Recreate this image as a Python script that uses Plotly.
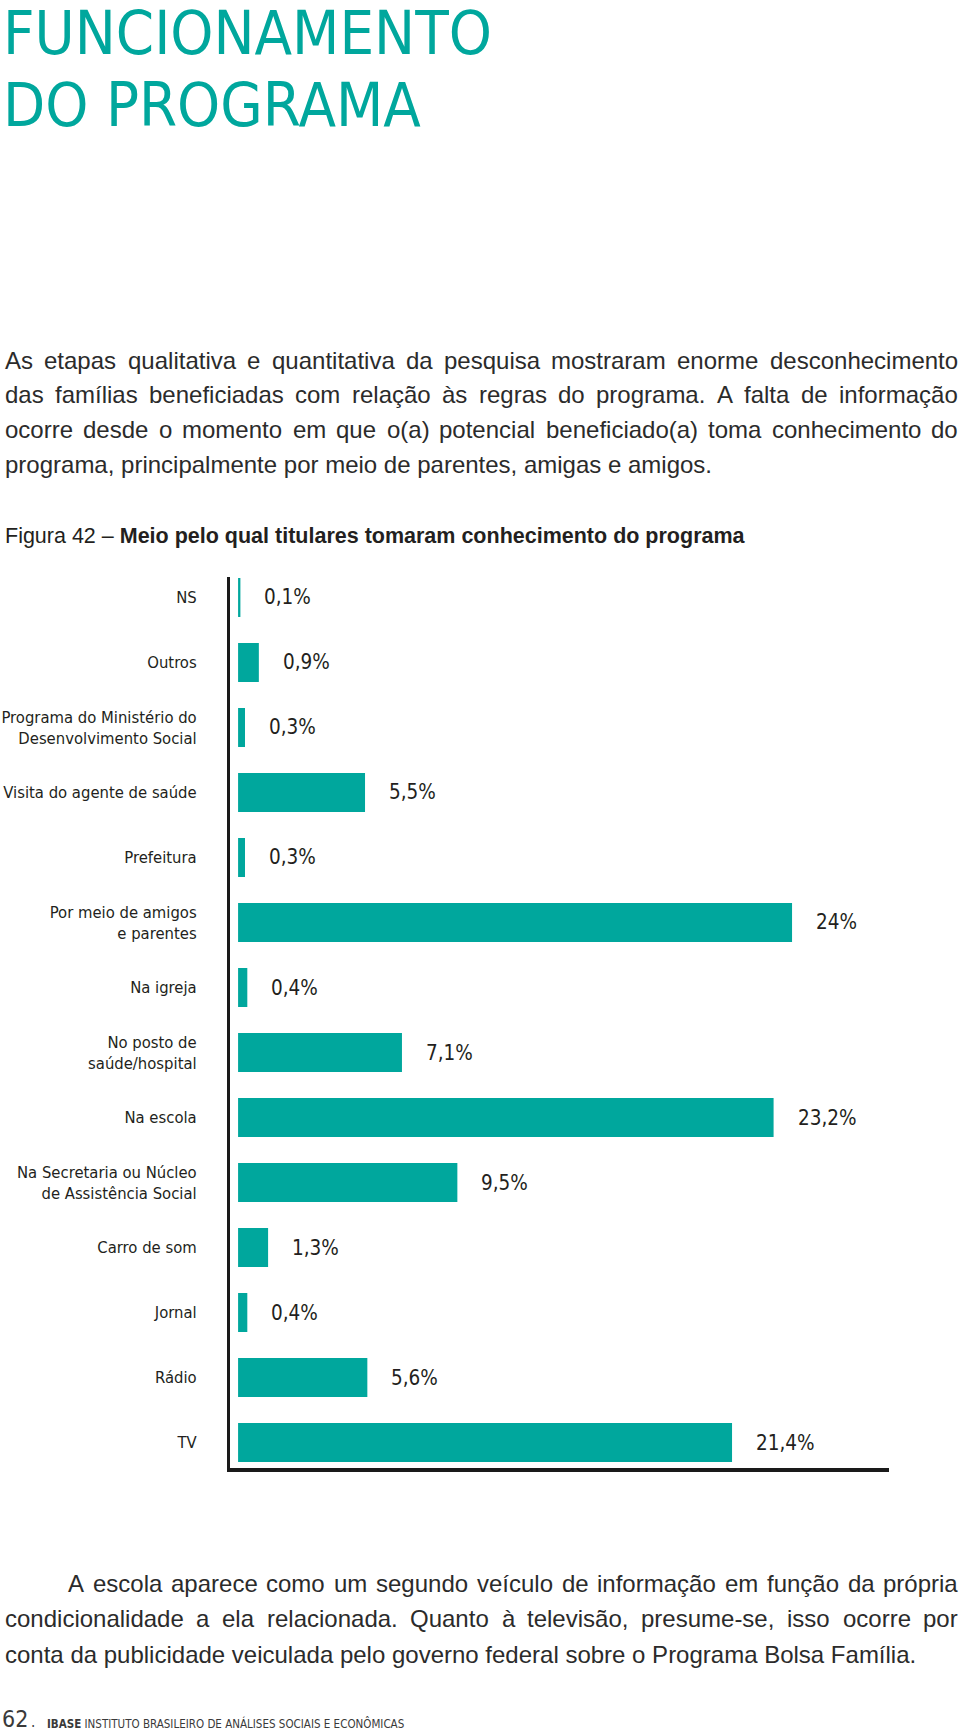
import plotly.graph_objects as go

# --- données du graphique (Figura 42) ---
categorias = [
    "NS", "Outros", "Programa do Ministério do Desenvolvimento Social",
    "Visita do agente de saúde", "Prefeitura", "Por meio de amigos e parentes",
    "Na igreja", "No posto de saúde/hospital", "Na escola",
    "Na Secretaria ou Núcleo de Assistência Social", "Carro de som",
    "Jornal", "Rádio", "TV",
]
rotulos = [
    "NS", "Outros", "Programa do Ministério do<br>Desenvolvimento Social",
    "Visita do agente de saúde", "Prefeitura", "Por meio de amigos<br>e parentes",
    "Na igreja", "No posto de<br>saúde/hospital", "Na escola",
    "Na Secretaria ou Núcleo<br>de Assistência Social", "Carro de som",
    "Jornal", "Rádio", "TV",
]
valores = [0.1, 0.9, 0.3, 5.5, 0.3, 24, 0.4, 7.1, 23.2, 9.5, 1.3, 0.4, 5.6, 21.4]

# --- textos da página ---
titulo = ["FUNCIONAMENTO", "DO PROGRAMA"]
paragrafo1 = [
    "As etapas qualitativa e quantitativa da pesquisa mostraram enorme desconhecimento",
    "das famílias beneficiadas com relação às regras do programa. A falta de informação",
    "ocorre desde o momento em que o(a) potencial beneficiado(a) toma conhecimento do",
    "programa, principalmente por meio de parentes, amigas e amigos.",
]
paragrafo2 = [
    "A escola aparece como um segundo veículo de informação em função da própria",
    "condicionalidade a ela relacionada. Quanto à televisão, presume-se, isso ocorre por",
    "conta da publicidade veiculada pelo governo federal sobre o Programa Bolsa Família.",
]
legenda_fig = "Figura 42 – "
legenda_titulo = "Meio pelo qual titulares tomaram conhecimento do programa"
rodape_pag = "62"
rodape_inst = "INSTITUTO BRASILEIRO DE ANÁLISES SOCIAIS E ECONÔMICAS"

# --- mise en page ---
W, H = 960, 1732
L, R, T, B = 230, 71, 577, 264
PW, PH = W - L - R, H - T - B
TEAL = "#00a79d"
INK = "#231f20"
BODY = "Liberation Sans, Arial, sans-serif"
NARROW = "DejaVu Sans Condensed, Liberation Sans Narrow, sans-serif"
BODY_SIZE = 24


def px(x):
    return (x - L) / PW


def py(y):
    return (H - B - y) / PH


# largeurs Arial / Liberation Sans (unités /1000) pour justifier le texte
LARG = {}
for c, w in zip("abcdefghijklmnopqrstuvwxyz",
                [556, 556, 500, 556, 556, 278, 556, 556, 222, 222, 500, 222, 833,
                 556, 556, 556, 556, 333, 500, 278, 556, 500, 722, 500, 500, 500]):
    LARG[c] = w
for c, w in zip("ABCDEFGHIJKLMNOPQRSTUVWXYZ",
                [667, 667, 722, 722, 667, 611, 778, 722, 278, 500, 667, 556, 833,
                 722, 778, 667, 778, 722, 667, 611, 722, 667, 944, 667, 667, 611]):
    LARG[c] = w
for c in "áàãâéêèóôõòúùûü":
    LARG[c] = 556
for c in "íìî":
    LARG[c] = 278
LARG.update({"ç": 500, " ": 278, ".": 278, ",": 278, "(": 333, ")": 333,
             "-": 333, "–": 556, "/": 278, "%": 889, ":": 278})


def largura(s, size):
    return sum(LARG.get(c, 556) for c in s) * size / 1000


annots = []


def linha(texto, x0, x1, y, justificar):
    if not justificar:
        annots.append(dict(text=texto, x=px(x0), y=py(y), xref="paper", yref="paper",
                           xanchor="left", yanchor="middle", showarrow=False,
                           font=dict(family=BODY, size=BODY_SIZE, color="#2b2b2b")))
        return
    palavras = texto.split(" ")
    ws = [largura(p, BODY_SIZE) for p in palavras]
    gap = (x1 - x0 - sum(ws)) / (len(palavras) - 1)
    x = x0
    for p, w in zip(palavras, ws):
        annots.append(dict(text=p, x=px(x), y=py(y), xref="paper", yref="paper",
                           xanchor="left", yanchor="middle", showarrow=False,
                           font=dict(family=BODY, size=BODY_SIZE, color="#2b2b2b")))
        x += w + gap


# titre
for t, y in zip(titulo, [33, 104]):
    annots.append(dict(text=t, x=px(1), y=py(y), xref="paper", yref="paper",
                       xanchor="left", yanchor="middle", showarrow=False,
                       font=dict(family=NARROW, size=61, color=TEAL)))

# paragraphes justifiés
for i, (t, y) in enumerate(zip(paragrafo1, [360, 394.5, 429, 464])):
    linha(t, 3, 956, y, i < len(paragrafo1) - 1)
for i, (t, y) in enumerate(zip(paragrafo2, [1583, 1618, 1654])):
    linha(t, 66 if i == 0 else 3, 956, y, i < len(paragrafo2) - 1)

# légende de la figure
annots.append(dict(text=legenda_fig + "<b>" + legenda_titulo + "</b>", x=px(3), y=py(536),
                   xref="paper", yref="paper", xanchor="left", yanchor="middle",
                   showarrow=False, font=dict(family=BODY, size=21.5, color=INK)))

# étiquettes de valeur
for c, v in zip(categorias, valores):
    txt = (f"{v:g}" if float(v).is_integer() else f"{v:.1f}").replace(".", ",") + "%"
    annots.append(dict(text=txt, x=v, y=c, xref="x", yref="y", xanchor="left",
                       yanchor="middle", xshift=22, showarrow=False,
                       font=dict(family=NARROW, size=20.5, color=INK)))

# pied de page
annots.append(dict(text=rodape_pag, x=px(0), y=py(1719), xref="paper", yref="paper",
                   xanchor="left", yanchor="middle", showarrow=False,
                   font=dict(family=NARROW, size=23, color="#3a3a3a")))
annots.append(dict(text=".", x=px(29), y=py(1722), xref="paper", yref="paper",
                   xanchor="left", yanchor="middle", showarrow=False,
                   font=dict(family=NARROW, size=15, color="#3a3a3a")))
annots.append(dict(text="<b>IBASE</b> " + rodape_inst, x=px(45), y=py(1723), xref="paper",
                   yref="paper", xanchor="left", yanchor="middle", showarrow=False,
                   font=dict(family=NARROW, size=11.5, color="#3a3a3a")))

fig = go.Figure(go.Bar(
    x=valores, y=categorias, orientation="h", width=0.6,
    marker=dict(color=TEAL, line=dict(width=0)), hoverinfo="skip",
))

fig.update_layout(
    width=W, height=H, autosize=False,
    margin=dict(l=L, r=R, t=T, b=B, pad=0),
    paper_bgcolor="white", plot_bgcolor="white",
    showlegend=False, annotations=annots,
    xaxis=dict(range=[-0.35, 28.2], showgrid=False, zeroline=False, automargin=False,
               showticklabels=False, ticks="", showline=True,
               linecolor="#1a1a1a", linewidth=3.5),
    yaxis=dict(type="category", categoryorder="array", categoryarray=categorias,
               range=[13.392, -0.315], showgrid=False, zeroline=False, ticks="",
               automargin=False, tickmode="array", tickvals=categorias, ticktext=rotulos,
               ticklabelstandoff=27, showline=True, linecolor="#1a1a1a", linewidth=3,
               tickfont=dict(family=NARROW, size=16.5, color=INK)),
)

# la page HTML a une marge de 8 px par défaut : on la supprime
fig.write_html("out.html", config={"displayModeBar": False},
               post_script="document.body.style.margin = '0';")
